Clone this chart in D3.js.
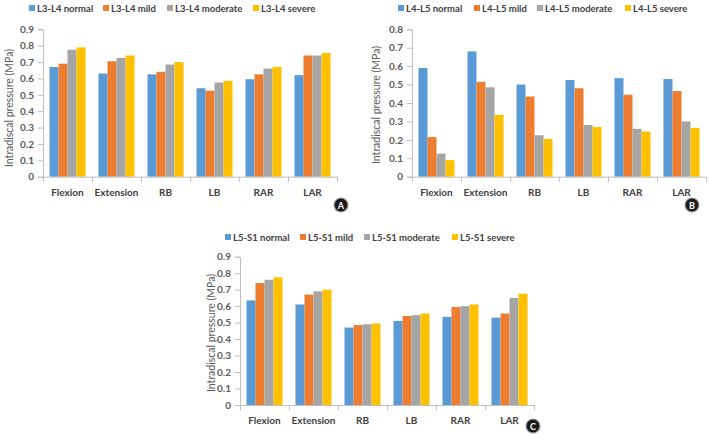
<!DOCTYPE html>
<html>
<head>
<meta charset="utf-8">
<script src="https://cdn.jsdelivr.net/npm/d3@7/dist/d3.min.js"></script>
<style>
  html, body { margin: 0; padding: 0; background: #fff; }
  svg { display: block; }
</style>
</head>
<body>
<svg id="chart" width="709" height="435"></svg>
<script>
// ---------- DATA ----------
const categories = ["Flexion", "Extension", "RB", "LB", "RAR", "LAR"];
const severities = ["normal", "mild", "moderate", "severe"];

// Panel A: L3-L4
const L3L4_normal   = [0.67, 0.63, 0.625, 0.54, 0.595, 0.62];
const L3L4_mild     = [0.69, 0.705, 0.64, 0.525, 0.625, 0.74];
const L3L4_moderate = [0.775, 0.725, 0.685, 0.575, 0.66, 0.74];
const L3L4_severe   = [0.79, 0.74, 0.70, 0.585, 0.67, 0.755];

// Panel B: L4-L5
const L4L5_normal   = [0.59, 0.68, 0.50, 0.525, 0.535, 0.53];
const L4L5_mild     = [0.215, 0.515, 0.435, 0.48, 0.445, 0.465];
const L4L5_moderate = [0.125, 0.485, 0.225, 0.28, 0.26, 0.30];
const L4L5_severe   = [0.09, 0.335, 0.205, 0.27, 0.245, 0.265];

// Panel C: L5-S1
const L5S1_normal   = [0.635, 0.61, 0.47, 0.51, 0.535, 0.53];
const L5S1_mild     = [0.74, 0.67, 0.485, 0.54, 0.595, 0.555];
const L5S1_moderate = [0.76, 0.69, 0.49, 0.545, 0.60, 0.65];
const L5S1_severe   = [0.775, 0.70, 0.495, 0.555, 0.61, 0.675];

const ticksA = ["0", "0.1", "0.2", "0.3", "0.4", "0.5", "0.6", "0.7", "0.8", "0.9"];
const ticksB = ["0", "0.1", "0.2", "0.3", "0.4", "0.5", "0.6", "0.7", "0.8"];
const ticksC = ["0", "0.1", "0.2", "0.3", "0.4", "0.5", "0.6", "0.7", "0.8", "0.9"];

const yTitle = "Intradiscal pressure (MPa)";
const colors = ["#5B9BD5", "#ED7D31", "#A5A5A5", "#FFC000"];

// ---------- DRAW ----------
const svg = d3.select("#chart");
const FONT = "Lato, 'Open Sans', sans-serif";

function drawPanel(p) {
  const g = svg.append("g");
  const tickVals = p.ticks.map(Number);
  const ymax = d3.max(tickVals);
  const y = d3.scaleLinear().domain([0, ymax]).range([p.bottom, p.top]);
  const x = d3.scaleBand().domain(categories).range([p.left, p.right]).padding(0);
  const xi = d3.scaleBand().domain(severities).range([0, x.bandwidth()])
    .paddingInner(0).paddingOuter(0.72);

  // bars
  p.series.forEach((vals, si) => {
    g.append("g").selectAll("rect").data(vals).enter().append("rect")
      .attr("x", (d, i) => x(categories[i]) + xi(severities[si]))
      .attr("y", d => y(d))
      .attr("width", xi.bandwidth())
      .attr("height", d => y(0) - y(d))
      .attr("fill", colors[si]);
  });

  // y axis
  const yAxis = d3.axisLeft(y).tickValues(tickVals)
    .tickFormat((d, i) => p.ticks[i]).tickSize(5).tickPadding(4);
  const ya = g.append("g").attr("transform", `translate(${p.left},0)`).call(yAxis);
  ya.select(".domain").attr("stroke", "#BFBFBF");
  ya.selectAll(".tick line").attr("stroke", "#BFBFBF");
  ya.selectAll("text").attr("font-family", FONT).attr("font-size", 10)
    .attr("font-weight", 700).attr("fill", "#595959");

  // x axis
  const xAxis = d3.axisBottom(x).tickSize(0).tickPadding(12);
  const xa = g.append("g").attr("transform", `translate(0,${p.bottom})`).call(xAxis);
  xa.select(".domain").attr("stroke", "#BFBFBF").attr("d", `M${p.left},0.5H${p.right}`);
  xa.selectAll("text").attr("font-family", FONT).attr("font-size", 10)
    .attr("font-weight", 700).attr("fill", "#404040");
  // boundary ticks
  const bounds = categories.map(c => x(c)).concat([p.right]);
  g.append("g").selectAll("line").data(bounds).enter().append("line")
    .attr("x1", d => Math.round(d) + 0.5).attr("x2", d => Math.round(d) + 0.5)
    .attr("y1", p.bottom).attr("y2", p.bottom + 5)
    .attr("stroke", "#BFBFBF");

  // y title
  g.append("text")
    .attr("transform", `translate(${p.titleX},${p.titleY}) rotate(-90)`)
    .attr("text-anchor", "middle").attr("dominant-baseline", "central")
    .attr("font-family", FONT).attr("font-size", 10.5).attr("fill", "#595959")
    .text(yTitle);

  // legend
  const lg = g.append("g");
  severities.forEach((s, i) => {
    const lx = p.legendX[i];
    lg.append("rect").attr("x", lx).attr("y", p.legendY - 3).attr("width", 6).attr("height", 6)
      .attr("fill", colors[i]);
    lg.append("text").attr("x", lx + 8).attr("y", p.legendY)
      .attr("dominant-baseline", "central")
      .attr("font-family", FONT).attr("font-size", 9.5).attr("font-weight", 700)
      .attr("fill", "#404040").text(`${p.level} ${s}`);
  });

  // circled letter
  g.append("circle").attr("cx", p.badge[0]).attr("cy", p.badge[1]).attr("r", 7)
    .attr("fill", "#1a1a1a").attr("stroke", "#9a9a9a").attr("stroke-width", 1.2);
  g.append("text").attr("x", p.badge[0]).attr("y", p.badge[1] + 0.5)
    .attr("text-anchor", "middle").attr("dominant-baseline", "central")
    .attr("font-family", FONT).attr("font-size", 9).attr("font-weight", 700)
    .attr("fill", "#fff").text(p.letter);
}

drawPanel({
  level: "L3-L4", letter: "A",
  series: [L3L4_normal, L3L4_mild, L3L4_moderate, L3L4_severe],
  ticks: ticksA, left: 43, right: 337, top: 29.3, bottom: 176.7,
  titleX: 9, titleY: 108, legendY: 8, legendX: [29, 103, 167, 253],
  badge: [341, 205]
});
drawPanel({
  level: "L4-L5", letter: "B",
  series: [L4L5_normal, L4L5_mild, L4L5_moderate, L4L5_severe],
  ticks: ticksB, left: 412, right: 706, top: 29.3, bottom: 176.7,
  titleX: 376, titleY: 105, legendY: 8, legendX: [398, 474, 537, 625],
  badge: [692, 205]
});
drawPanel({
  level: "L5-S1", letter: "C",
  series: [L5S1_normal, L5S1_mild, L5S1_moderate, L5S1_severe],
  ticks: ticksC, left: 240, right: 534, top: 256.7, bottom: 405,
  titleX: 211, titleY: 333, legendY: 237, legendX: [225, 300, 364, 452],
  badge: [533, 426]
});
</script>
</body>
</html>
